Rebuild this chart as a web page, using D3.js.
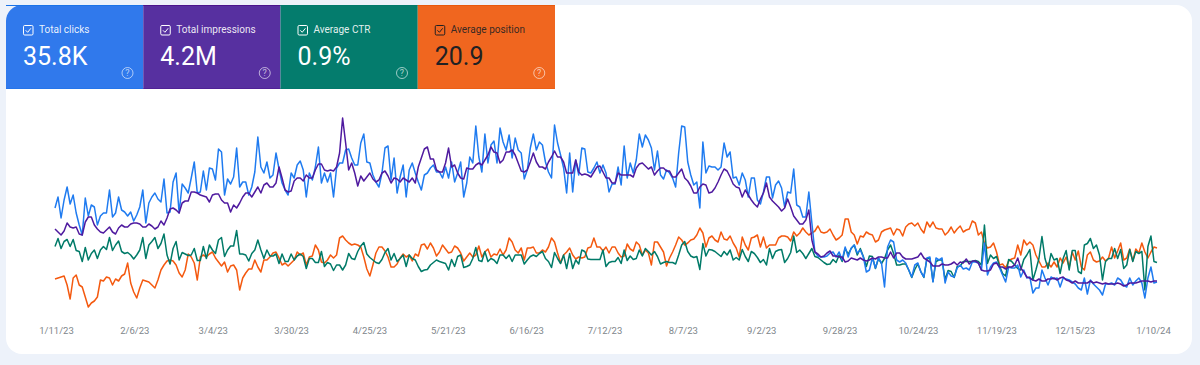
<!DOCTYPE html>
<html>
<head>
<meta charset="utf-8">
<script src="https://cdn.jsdelivr.net/npm/d3@7"></script>
<style>
  html, body { margin: 0; padding: 0; background: #edf2fa; }
  svg { display: block; font-family: Roboto, sans-serif; }
</style>
</head>
<body>
<svg id="chart"></svg>
<script>
// daily values from 1/11/23 to 1/10/24
var tickLabels = ["1/11/23","2/6/23","3/4/23","3/30/23","4/25/23","5/21/23","6/16/23","7/12/23","8/7/23","9/2/23","9/28/23","10/24/23","11/19/23","12/15/23","1/10/24"];
var tileNames = ["Total clicks","Total impressions","Average CTR","Average position"];
var tileValues = ["35.8K","4.2M","0.9%","20.9"];

// clicks per day
var clicks = [92,103,82,100,113,96,105,87,75,65,102,84,95,93,75,84,87,87,110,83,87,103,90,88,84,88,79,85,93,110,77,97,103,107,101,98,121,87,88,118,127,87,116,112,107,122,138,107,108,129,110,132,131,120,151,148,105,121,116,123,152,113,118,118,105,113,128,163,133,127,138,122,125,147,131,117,110,105,127,122,135,139,130,103,127,120,133,153,117,127,118,127,103,132,137,137,
150,151,142,135,135,157,166,138,137,125,118,113,127,152,154,120,142,107,123,135,103,130,137,127,118,110,125,127,132,135,128,128,122,133,122,138,118,127,138,103,117,143,137,174,143,128,166,137,155,159,137,172,158,150,165,142,162,150,147,121,130,152,166,150,158,155,138,128,122,175,157,145,132,107,147,108,140,125,152,151,128,127,132,138,127,135,127,108,116,116,
133,115,154,122,137,127,140,166,153,165,160,152,130,149,125,121,130,127,122,113,147,174,173,138,125,115,118,92,158,127,134,133,133,130,133,157,143,148,122,123,115,127,120,103,122,122,100,96,108,123,123,102,115,119,112,93,108,107,131,95,93,83,83,108,77,48,44,43,43,44,47,48,43,48,40,53,43,52,55,47,50,43,28,30,42,32,42,37,
13,53,60,58,40,38,40,37,30,23,35,37,28,23,42,43,18,42,40,42,17,28,24,23,32,35,31,32,30,38,38,37,30,57,25,33,37,38,32,25,18,33,32,32,35,23,30,22,23,7,12,12,30,22,15,23,21,22,13,22,21,20,18,16,12,10,22,6,20,16,13,10,5,16,16,17,15,22,20,15,13,22,15,19,22,17,2,22,33,17,18];

// impressions per day, in hundreds
var impressions = [71,68,65,69,77,73,72,73,66,65,78,83,83,75,71,68,67,70,73,68,66,72,75,73,73,76,77,77,76,73,73,76,74,71,73,79,75,82,91,92,90,87,97,99,99,108,108,107,105,104,103,98,105,106,106,100,97,97,88,95,92,97,103,107,107,103,108,113,107,115,117,113,113,117,133,122,110,108,109,119,122,122,119,125,122,122,130,136,136,130,129,130,129,133,147,182,
157,130,137,127,114,124,119,123,127,121,118,120,127,129,124,117,122,121,118,122,120,118,122,117,133,142,151,153,141,141,130,128,128,137,152,133,135,127,122,121,132,131,131,135,137,135,140,145,153,148,147,137,140,148,148,150,145,137,129,128,130,138,147,138,133,133,131,138,143,149,143,143,138,127,127,127,140,128,125,126,125,123,128,133,134,128,122,122,117,117,
127,125,125,125,125,123,132,136,137,134,131,133,125,129,132,132,129,129,123,123,127,131,122,119,114,107,107,113,116,115,107,108,112,118,125,131,129,123,116,113,112,103,110,105,100,96,93,101,107,117,103,99,96,93,89,92,101,93,84,80,76,76,80,90,60,48,46,43,44,47,49,44,44,43,43,38,39,42,41,40,42,40,39,40,42,41,43,43,
42,42,48,42,47,47,43,41,41,41,42,43,47,42,40,38,34,34,34,36,35,35,36,38,35,38,37,41,36,39,39,37,30,29,29,30,36,37,33,33,31,33,33,35,42,32,28,23,22,20,19,21,19,19,21,21,22,20,22,23,20,19,17,19,17,17,17,17,19,17,18,17,16,17,16,16,16,17,16,14,15,17,17,17,18,19,19,19,18,19,19];

// CTR per day, in basis points
var ctr = [107,123,103,117,121,107,121,99,97,77,105,80,93,100,83,100,107,101,125,99,110,118,97,93,95,90,82,90,100,125,83,110,117,125,103,113,132,90,72,103,117,80,95,92,89,90,103,79,79,107,83,110,100,93,120,125,87,100,108,108,139,92,92,90,78,93,100,120,100,83,100,88,88,92,73,92,77,77,92,80,88,92,87,63,83,83,75,75,97,67,75,72,59,70,70,60,
70,93,83,81,97,108,115,92,85,80,75,73,81,95,103,80,93,77,83,90,67,90,83,80,67,57,60,61,70,75,80,77,75,73,60,81,67,87,90,65,67,70,83,105,79,77,97,77,83,80,73,90,90,83,90,77,90,90,90,72,80,87,90,87,93,97,83,77,65,95,83,73,90,63,93,63,80,72,100,97,82,81,81,81,81,100,67,75,77,77,
85,73,100,79,88,81,83,100,88,103,97,90,97,87,72,75,77,75,75,72,90,110,117,97,88,85,87,61,113,88,101,100,97,92,87,97,90,100,80,85,80,101,87,77,97,93,85,75,81,70,103,83,97,100,101,75,83,95,128,95,100,93,83,93,103,87,85,80,75,71,72,81,75,90,77,103,92,103,110,90,103,87,67,88,87,63,83,73,
83,100,110,93,70,70,72,72,60,45,61,72,57,45,83,83,37,77,80,80,41,59,57,45,67,68,77,77,77,77,79,77,70,150,73,90,83,87,68,53,48,81,77,70,63,60,81,90,101,40,60,83,127,83,63,93,80,83,53,83,99,60,99,99,57,53,110,113,123,103,110,90,40,77,83,83,103,83,101,63,70,101,77,97,93,97,20,107,128,77,75];

// average position per day, in tenths of a rank
var position = [238,237,236,235,244,258,237,234,244,246,256,266,262,260,256,239,240,236,237,244,238,240,235,233,222,242,251,257,247,239,240,241,244,247,239,229,224,220,219,220,224,232,236,229,213,216,222,239,216,214,216,213,211,217,221,225,221,231,225,224,229,249,237,232,228,228,219,226,231,219,219,216,212,211,217,224,222,225,222,219,211,214,212,224,216,215,204,209,221,222,219,214,217,214,197,195,
199,202,204,203,204,206,216,228,235,224,212,206,206,210,216,226,226,223,217,213,216,214,220,213,215,204,203,208,202,207,215,211,204,208,212,211,205,207,212,220,216,212,216,214,205,216,211,208,216,213,214,208,214,209,197,201,209,212,207,219,207,207,206,212,212,209,211,206,197,201,212,222,214,211,207,214,218,216,217,216,207,206,197,206,206,210,206,212,206,206,
212,216,215,203,208,210,201,204,214,209,212,224,201,201,206,211,225,217,211,204,196,199,204,202,199,198,194,187,192,206,197,195,199,201,191,198,199,195,202,207,216,196,204,209,197,196,194,206,196,207,204,204,204,197,195,195,196,200,191,195,192,187,191,194,192,190,185,191,192,191,188,194,199,197,194,178,178,191,194,203,195,196,191,193,194,201,199,191,
189,188,187,194,188,189,195,186,183,182,185,182,188,192,181,186,181,187,188,188,194,191,186,192,188,185,191,189,188,180,182,194,191,202,207,206,202,211,224,223,227,220,218,217,204,214,199,204,201,204,214,220,226,226,222,226,221,226,217,222,216,226,211,219,210,226,229,214,211,219,221,220,216,220,217,206,217,210,202,219,217,208,220,208,212,202,211,217,211,206,207];

var startDate = new Date(2023, 0, 11);
var dates = clicks.map(function (d, i) { return d3.timeDay.offset(startDate, i); });

var width = 1200, height = 365;
var svg = d3.select("#chart").attr("width", width).attr("height", height);

// white card
svg.append("rect").attr("x", 6).attr("y", 5).attr("width", 1186).attr("height", 349).attr("rx", 16).attr("fill", "#fff");

// tiles
var tileColors = ["#3079ec", "#5730a0", "#047c6d", "#f0661f"];
var tileEdges = ["#1a73e8", "#4a148c", "#00796b", "#e8590c"];
var tileWidth = 137.25;
var tileX = d3.scaleBand().domain(tileNames).range([6, 555]);

tileNames.forEach(function (name, i) {
    var x0 = tileX(name);
    var ink = i == 3 ? "#202124" : "#fff";
    var g = svg.append("g").attr("transform", "translate(" + x0 + ",5)");
    if (i == 0) {
        g.append("path").attr("d", "M0,84V16A16,16 0 0 1 16,0H" + tileWidth + "V84Z").attr("fill", tileColors[i]);
    } else {
        g.append("rect").attr("width", tileWidth).attr("height", 84).attr("fill", tileColors[i]);
    }
    g.append("rect").attr("width", tileWidth).attr("height", 1).attr("fill", tileEdges[i]);
    g.append("rect").attr("y", 83.5).attr("width", tileWidth).attr("height", 0.5).attr("fill", tileEdges[i]);
    // checkbox
    g.append("rect").attr("x", 17.5).attr("y", 20.5).attr("width", 9.5).attr("height", 9.5).attr("rx", 1.2)
        .attr("fill", "none").attr("stroke", ink).attr("stroke-width", 1);
    g.append("path").attr("d", "M19.7,25.3l2,2l3.2,-4").attr("fill", "none").attr("stroke", ink).attr("stroke-width", 1);
    g.append("text").attr("x", 33).attr("y", 28).attr("font-size", 10).attr("fill", ink).attr("fill-opacity", 0.9).text(name);
    g.append("text").attr("x", 17).attr("y", 60).attr("font-size", 25).attr("fill", ink).text(tileValues[i]);
    // help icon
    g.append("circle").attr("cx", 121.5).attr("cy", 68).attr("r", 5.5).attr("fill", "none").attr("stroke", "#fff").attr("stroke-opacity", 0.6);
    g.append("text").attr("x", 121.5).attr("y", 71.2).attr("text-anchor", "middle").attr("font-size", 9).attr("fill", "#fff").attr("fill-opacity", 0.65).text("?");
});

// scales, each metric has its own y range
var x = d3.scaleTime().domain([startDate, d3.timeDay.offset(startDate, 364)]).range([55, 1157]);
var yClicks = d3.scaleLinear().domain([0, 180]).range([300, 120]);
var yImpressions = d3.scaleLinear().domain([0, 180]).range([300, 120]);
var yCtr = d3.scaleLinear().domain([0, 360]).range([300, 120]);
var yPosition = d3.scaleLinear().domain([259, 79]).range([300, 120]);

var series = [
    { values: position, y: yPosition, color: "#f4590f" },
    { values: ctr, y: yCtr, color: "#007a68" },
    { values: clicks, y: yClicks, color: "#1f7bf0" },
    { values: impressions, y: yImpressions, color: "#4f1a9f" }
];

series.forEach(function (s) {
    var line = d3.line()
        .x(function (d, i) { return x(dates[i]); })
        .y(function (d) { return s.y(d); });
    svg.append("path").datum(s.values)
        .attr("d", line)
        .attr("fill", "none")
        .attr("stroke", s.color)
        .attr("stroke-width", 1.5)
        .attr("stroke-linejoin", "round");
});

// x axis, labels sit slightly inside the data range
var tickDates = tickLabels.map(function (d, i) { return d3.timeDay.offset(startDate, i * 26); });
var xAxisScale = x.copy().range([56, 1153]);
var xAxis = d3.axisBottom(xAxisScale).tickValues(tickDates).tickSize(0)
    .tickFormat(function (d, i) { return tickLabels[i]; });
var axisG = svg.append("g").attr("transform", "translate(0,324)").call(xAxis);
axisG.select(".domain").remove();
axisG.selectAll("text").attr("font-family", "Roboto, sans-serif").attr("font-size", 9.5).attr("fill", "#80868b");
</script>
</body>
</html>
